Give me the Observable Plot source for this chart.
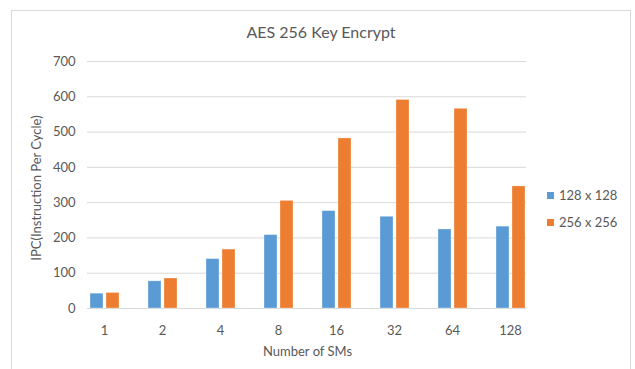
<!DOCTYPE html>
<html>
<head>
<meta charset="utf-8">
<script src="https://cdn.jsdelivr.net/npm/d3@7"></script>
<script src="https://cdn.jsdelivr.net/npm/@observablehq/plot@0.6"></script>
<style>
  html, body { margin: 0; padding: 0; background: #fff; }
  body { width: 635px; height: 369px; position: relative; overflow: hidden; font-family: Lato, "Open Sans", sans-serif; }
  #frame { position: absolute; left: 11px; top: 10px; width: 620px; height: 400px; border: 1px solid #d9d9d9; box-sizing: border-box; }
  #title { position: absolute; left: 0; width: 642px; top: 22px; text-align: center; font-size: 16px; color: #595959; line-height: 20px; }
  #grid, #chart { position: absolute; left: 0; top: 0; }
  #ylabel { position: absolute; left: 36px; top: 188px; width: 0; height: 0; }
  #ylabel div { position: absolute; left: 0; top: 0; transform: translate(-50%, -50%) rotate(-90deg); white-space: nowrap; font-size: 13px; line-height: 16px; color: #595959; }
  .leg { position: absolute; left: 547px; font-size: 13px; color: #595959; line-height: 16px; white-space: nowrap; }
  .leg span.sw { display: inline-block; width: 7px; height: 7px; margin-right: 5px; vertical-align: 1px; }
</style>
</head>
<body>
<div id="frame"></div>
<div id="title">AES 256 Key Encrypt</div>
<div id="grid"></div>
<div id="chart"></div>
<div id="ylabel"><div>IPC(Instruction Per Cycle)</div></div>
<div id="legend"></div>
<script>
const categories = ["1", "2", "4", "8", "16", "32", "64", "128"];
const seriesNames = ["128 x 128", "256 x 256"];
const ipc128 = [42, 77, 140, 208, 276, 260, 224, 232];
const ipc256 = [44, 85, 167, 305, 482, 591, 566, 346];
const yTicks = [0, 100, 200, 300, 400, 500, 600, 700];
const colors = ["#5B9BD5", "#ED7D31"];

const rows = [];
categories.forEach((c, i) => {
  rows.push({sms: c, series: seriesNames[0], ipc: ipc128[i]});
  rows.push({sms: c, series: seriesNames[1], ipc: ipc256[i]});
});

const common = {
  width: 635,
  height: 369,
  marginLeft: 87,
  marginRight: 109,
  marginTop: 61,
  marginBottom: 61,
  style: {fontFamily: "Lato, 'Open Sans', sans-serif", fontSize: "13px", color: "#595959", background: "transparent"}
};

const gridPlot = Plot.plot({
  ...common,
  x: {domain: categories, axis: null},
  y: {domain: [0, 700], axis: null},
  marks: [
    Plot.ruleY(yTicks, {stroke: "#d9d9d9", strokeWidth: 1})
  ]
});
document.getElementById("grid").appendChild(gridPlot);

const plot = Plot.plot({
  ...common,
  fx: {domain: categories, padding: 0.49, label: null},
  x: {domain: seriesNames, paddingInner: 0.19, paddingOuter: 0, axis: null},
  y: {domain: [0, 700], label: null},
  color: {domain: seriesNames, range: colors},
  marks: [
    Plot.barY(rows, {fx: "sms", x: "series", y: "ipc", fill: "series", stroke: "#fff", strokeOpacity: 0.5, strokeWidth: 0.6}),
    Plot.axisY(yTicks, {tickSize: 0, tickPadding: 14, fill: "#595959", fontSize: 13, label: null}),
    Plot.axisFx({anchor: "bottom", tickSize: 0, tickPadding: 17, fill: "#595959", fontSize: 13,
      label: "Number of SMs", labelAnchor: "center", labelOffset: 47})
  ]
});
document.getElementById("chart").appendChild(plot);

const legend = document.getElementById("legend");
seriesNames.forEach((s, i) => {
  const d = document.createElement("div");
  d.className = "leg";
  d.style.top = (187 + i * 27) + "px";
  d.innerHTML = `<span class="sw" style="background:${colors[i]}"></span>${s}`;
  legend.appendChild(d);
});
</script>
</body>
</html>
